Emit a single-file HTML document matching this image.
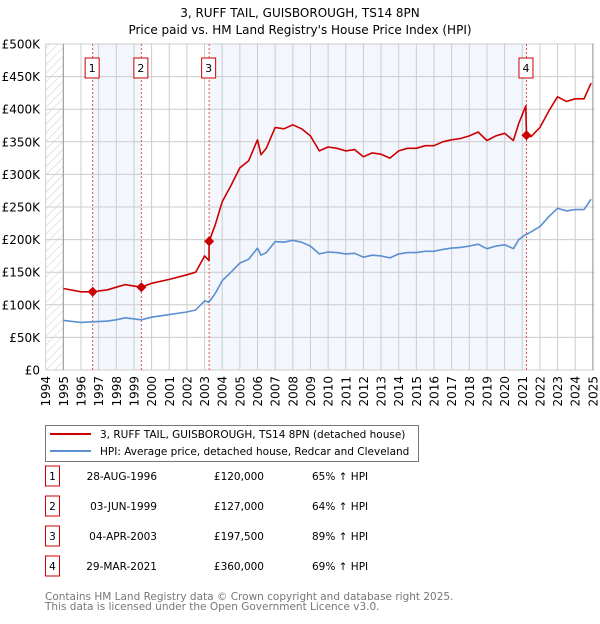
<!DOCTYPE html>
<html><head><meta charset="utf-8"><style>
body{margin:0;background:#fff;font-family:"DejaVu Sans","Liberation Sans",sans-serif;}
svg text{font-family:"DejaVu Sans","Liberation Sans",sans-serif;}
</style></head><body>
<svg id="c" width="600" height="620" xmlns="http://www.w3.org/2000/svg">
<defs><pattern id="hatch" width="6" height="6" patternUnits="userSpaceOnUse" patternTransform="rotate(45)"><line x1="0" y1="0" x2="0" y2="6" stroke="#ccc" stroke-width="1"/></pattern></defs>
<text x="300" y="17" text-anchor="middle" font-size="12">3, RUFF TAIL, GUISBOROUGH, TS14 8PN</text>
<text x="300" y="34" text-anchor="middle" font-size="12">Price paid vs. HM Land Registry's House Price Index (HPI)</text>
<g id="plot"></g>
<g>
<rect x="45.5" y="425.5" width="373" height="36" fill="#fff" stroke="#777"/>
<line x1="50" y1="434" x2="91" y2="434" stroke="#cc0000" stroke-width="2"/>
<text x="100" y="438" font-size="10.5">3, RUFF TAIL, GUISBOROUGH, TS14 8PN (detached house)</text>
<line x1="50" y1="451" x2="91" y2="451" stroke="#5b8fd0" stroke-width="2"/>
<text x="100" y="455" font-size="10.5">HPI: Average price, detached house, Redcar and Cleveland</text>
</g>
<g id="table" font-size="10.5"></g>
<text x="45" y="600" font-size="10.5" fill="#777">Contains HM Land Registry data © Crown copyright and database right 2025.</text>
<text x="45" y="610" font-size="10.5" fill="#777">This data is licensed under the Open Government Licence v3.0.</text>
</svg>
<script>
const years=[1995,1996,1996.66,1997.5,1998,1998.5,1999.42,2000,2001,2002,2002.5,2003.0,2003.25,2003.26,2003.6,2004,2004.5,2005,2005.5,2006,2006.2,2006.5,2007,2007.5,2008,2008.5,2009,2009.5,2010,2010.5,2011,2011.5,2012,2012.5,2013,2013.5,2014,2014.5,2015,2015.5,2016,2016.5,2017,2017.5,2018,2018.5,2019,2019.5,2020,2020.5,2020.8,2021.2,2021.24,2021.5,2022,2022.5,2023,2023.5,2024,2024.5,2024.9];
const hpi=[76,73,74,75,77,80,77,81,85,89,92,106,104,104.5,117,137,150,164,170,187,176,180,197,196,199,196,190,178,181,180,178,179,173,176,175,172,178,180,180,182,182,185,187,188,190,193,186,190,192,186,200,208,208,212,220,235,248,244,246,246,262];
const prop=[125,120,120,123,127,131,127,133,139,146,150,175,168,197.5,222,258,283,310,321,353,330,340,372,370,376,370,359,336,342,340,336,338,327,333,331,325,336,340,340,344,344,350,353,355,359,365,352,359,363,352,378,405,360,358,372,397,419,412,416,416,440];
const saleYears=[1996.66,1999.42,2003.26,2021.24];
const salePrices=[120000,127000,197500,360000];
const saleDates=["28-AUG-1996","03-JUN-1999","04-APR-2003","29-MAR-2021"];
const salePriceLabels=["£120,000","£127,000","£197,500","£360,000"];
const salePct=["65% ↑ HPI","64% ↑ HPI","89% ↑ HPI","69% ↑ HPI"];
const yTicks=[0,50,100,150,200,250,300,350,400,450,500];
const yTickLabels=["£0","£50K","£100K","£150K","£200K","£250K","£300K","£350K","£400K","£450K","£500K"];
const xTicks=[1994,1995,1996,1997,1998,1999,2000,2001,2002,2003,2004,2005,2006,2007,2008,2009,2010,2011,2012,2013,2014,2015,2016,2017,2018,2019,2020,2021,2022,2023,2024,2025];

const NS="http://www.w3.org/2000/svg";
const X0=45.7,PX=17.65,Y0=370,PY=0.652;
const xs=y=>X0+(y-1994)*PX;
const ys=v=>Y0-v*PY;
const plot=document.getElementById('plot');
function mk(tag,attrs,parent){const e=document.createElementNS(NS,tag);for(const k in attrs)e.setAttribute(k,attrs[k]);(parent||plot).appendChild(e);return e;}
const L=xs(1994),R=xs(2025.1),T=ys(500),B=ys(0);
for(const [a,b] of [[saleYears[0],saleYears[1]],[saleYears[2],saleYears[3]]]){
 const r=mk('rect',{x:xs(a),y:T,width:xs(b)-xs(a),height:B-T,fill:'#f3f6fd'});
 
 
}
const h=mk('rect',{x:L,y:T,width:xs(1995)-L,height:B-T,fill:'url(#hatch)'});


yTicks.forEach((v,i)=>{
 mk('line',{x1:L,x2:R,y1:ys(v),y2:ys(v),stroke:'#ccc','stroke-width':1});
 const t=mk('text',{x:40,y:ys(v)+4.5,'text-anchor':'end','font-size':12});
 t.textContent=yTickLabels[i];
 
 
});
xTicks.forEach(y=>{
 mk('line',{x1:xs(y),x2:xs(y),y1:T,y2:B,stroke:'#ccc','stroke-width':1});
 const t=mk('text',{x:0,y:0,'text-anchor':'end','font-size':12,transform:`translate(${xs(y)+4.5},${B+6}) rotate(-90)`});
 t.textContent=y;
 
 
});
mk('line',{x1:xs(1995),x2:xs(1995),y1:T,y2:B,stroke:'#999'});
mk('line',{x1:xs(2025),x2:xs(2025),y1:T,y2:B,stroke:'#999'});
saleYears.forEach((y,i)=>{
 const l=mk('line',{x1:xs(y),x2:xs(y),y1:T,y2:B,stroke:'#e05050','stroke-dasharray':'2,2','stroke-width':1});
 
 
 const g=mk('g',{});
 
 
 mk('rect',{x:xs(y)-7.5,y:58,width:14,height:20,fill:'#fff',stroke:'#cc0000'},g);
 const t=mk('text',{x:xs(y)-0.5,y:72,'text-anchor':'middle','font-size':11},g);
 t.textContent=i+1;
});
function line(arr,color,name){
 const d=years.map((y,i)=>(i?'L':'M')+xs(y).toFixed(1)+','+ys(arr[i]).toFixed(1)).join('');
 const p=mk('path',{d:d,fill:'none',stroke:color,'stroke-width':1.6,'stroke-linejoin':'round'});
 
 
}
line(hpi,'#5b8fd0','hpi-line');
line(prop,'#cc0000','property-line');
saleYears.forEach((y,i)=>{
 const c=mk('path',{d:`M${xs(y)},${ys(salePrices[i]/1000)-5}l5,5l-5,5l-5,-5z`,fill:'#cc0000'});
 
 
});
const tb=document.getElementById('table');
saleYears.forEach((y,i)=>{
 const cy=483+i*30;
 const g=mk('g',{},tb);
 
 
 mk('rect',{x:45.5,y:cy-17,width:14,height:20,fill:'#fff',stroke:'#cc0000'},g);
 const a=mk('text',{x:52.5,y:cy-3,'text-anchor':'middle'},g);a.textContent=i+1;
 const b=mk('text',{x:157,y:cy-3,'text-anchor':'end'},g);b.textContent=saleDates[i];
 const c=mk('text',{x:264,y:cy-3,'text-anchor':'end'},g);c.textContent=salePriceLabels[i];
 const d=mk('text',{x:312,y:cy-3},g);d.textContent=salePct[i];
});
</script>
</body></html>
